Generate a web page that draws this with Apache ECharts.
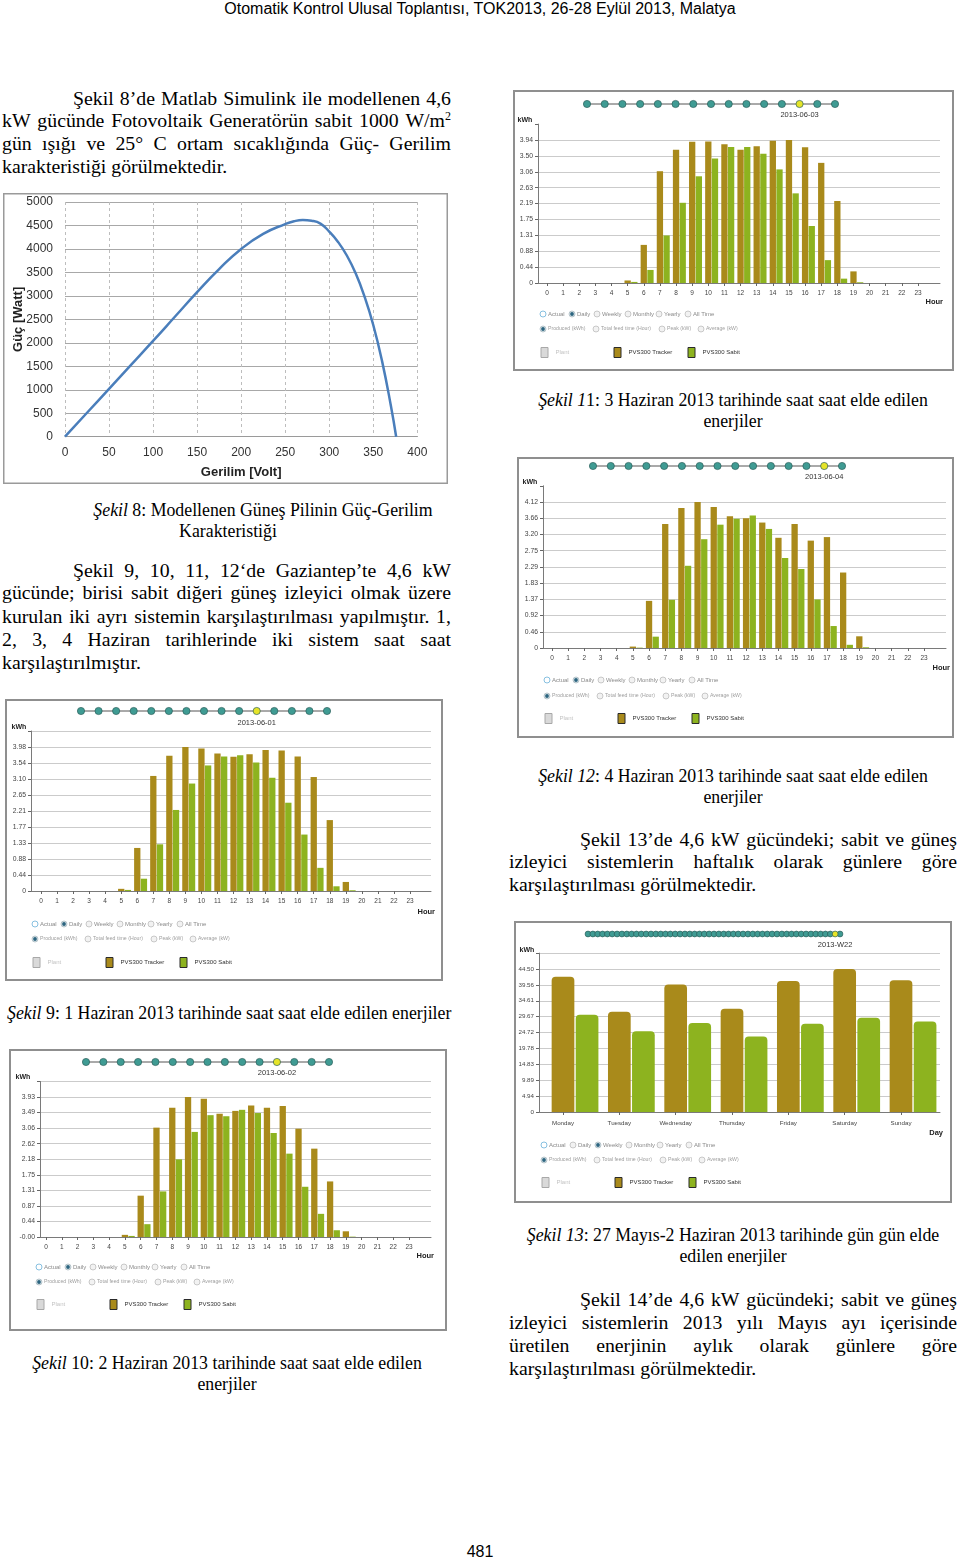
<!DOCTYPE html>
<html><head><meta charset="utf-8">
<script src="https://cdn.jsdelivr.net/npm/echarts/dist/echarts.min.js"></script>
<style>
body{margin:0;width:960px;height:1558px;position:relative;background:#fff;overflow:hidden;font-family:'Liberation Serif','Times New Roman',serif;color:#000}
.hd{position:absolute;left:0;top:0;width:960px;text-align:center;font-size:16px;line-height:18px;font-family:'Liberation Sans Narrow','Arial Narrow','Liberation Sans',sans-serif;white-space:nowrap}
.j{position:absolute;display:flex;justify-content:space-between;white-space:nowrap;font-size:19.8px;line-height:23px}
.l{position:absolute;white-space:nowrap;font-size:19.8px;line-height:23px}
.c{position:absolute;width:440px;text-align:center;white-space:nowrap;font-size:17.8px;line-height:21px}
.pg{position:absolute;left:430px;width:100px;top:1543px;text-align:center;font:16px 'Liberation Sans',Arial,sans-serif}
sup{font-size:12px;line-height:0;vertical-align:7px}
.ch{position:absolute;background:#fff}
</style></head><body>

<div class="hd">Otomatik Kontrol Ulusal Toplantısı, TOK2013, 26-28 Eylül 2013, Malatya</div>

<div class="j" style="left:73px;top:87px;width:378px">Şekil 8’de Matlab Simulink ile modellenen 4,6</div>
<div class="j" style="left:2px;top:109px;width:449px">kW gücünde Fotovoltaik Generatörün sabit 1000 W/m<sup>2</sup></div>
<div class="j" style="left:2px;top:132px;width:449px">gün ışığı ve 25° C ortam sıcaklığında Güç- Gerilim</div>
<div class="l" style="left:2px;top:155px">karakteristiği görülmektedir.</div>

<div class="c" style="left:43px;top:500px"><i>Şekil</i> 8: Modellenen Güneş Pilinin Güç-Gerilim</div>
<div class="c" style="left:8px;top:521px">Karakteristiği</div>

<div class="j" style="left:73px;top:559px;width:378px">Şekil 9, 10, 11, 12‘de Gaziantep’te 4,6 kW</div>
<div class="j" style="left:2px;top:581px;width:449px">gücünde; birisi sabit diğeri güneş izleyici olmak üzere</div>
<div class="j" style="left:2px;top:605px;width:449px">kurulan iki ayrı sistemin karşılaştırılması yapılmıştır. 1,</div>
<div class="j" style="left:2px;top:628px;width:449px">2, 3, 4 Haziran tarihlerinde iki sistem saat saat</div>
<div class="l" style="left:2px;top:651px">karşılaştırılmıştır.</div>

<div class="c" style="left:513px;top:390px"><i>Şekil 1</i>1: 3 Haziran 2013 tarihinde saat saat elde edilen</div>
<div class="c" style="left:513px;top:411px">enerjiler</div>

<div class="c" style="left:513px;top:766px"><i>Şekil 12</i>: 4 Haziran 2013 tarihinde saat saat elde edilen</div>
<div class="c" style="left:513px;top:787px">enerjiler</div>

<div class="j" style="left:580px;top:828px;width:377px">Şekil 13’de 4,6 kW gücündeki; sabit ve güneş</div>
<div class="j" style="left:509px;top:850px;width:448px">izleyici sistemlerin haftalık olarak günlere göre</div>
<div class="l" style="left:509px;top:873px">karşılaştırılması görülmektedir.</div>

<div class="c" style="left:7px;top:1003px"><i>Şekil</i> 9: 1 Haziran 2013 tarihinde saat saat elde edilen enerjiler</div>

<div class="c" style="left:513px;top:1225px"><i>Şekil 13</i>: 27 Mayıs-2 Haziran 2013 tarihinde gün gün elde</div>
<div class="c" style="left:513px;top:1246px">edilen enerjiler</div>

<div class="j" style="left:580px;top:1288px;width:377px">Şekil 14’de 4,6 kW gücündeki; sabit ve güneş</div>
<div class="j" style="left:509px;top:1311px;width:448px">izleyici sistemlerin 2013 yılı Mayıs ayı içerisinde</div>
<div class="j" style="left:509px;top:1334px;width:448px">üretilen enerjinin aylık olarak günlere göre</div>
<div class="l" style="left:509px;top:1357px">karşılaştırılması görülmektedir.</div>

<div class="c" style="left:7px;top:1353px"><i>Şekil</i> 10: 2 Haziran 2013 tarihinde saat saat elde edilen</div>
<div class="c" style="left:7px;top:1374px">enerjiler</div>

<div class="pg">481</div>

<div id="pv" class="ch" style="left:3px;top:193px;width:445px;height:291px"></div>
<div id="f11" class="ch" style="left:513px;top:90px;width:441px;height:281px"></div>
<div id="f12" class="ch" style="left:517px;top:457px;width:437px;height:281px"></div>
<div id="f9" class="ch" style="left:5px;top:699px;width:438px;height:282px"></div>
<div id="f13" class="ch" style="left:514px;top:921px;width:438px;height:282px"></div>
<div id="f10" class="ch" style="left:9px;top:1049px;width:438px;height:282px"></div>

<script>
// ---------- DATA ----------
const pvVoltage = [0, 25, 50, 75, 100, 125, 150, 175, 200, 225, 250, 260, 270, 280, 290, 300, 310, 320, 330, 340, 350, 360, 370, 376];
const pvPower   = [0, 510, 1020, 1530, 2040, 2560, 3080, 3570, 4000, 4320, 4530, 4590, 4615, 4600, 4540, 4370, 4150, 3860, 3480, 2990, 2380, 1610, 660, 0];

const hourLabels = ['0','1','2','3','4','5','6','7','8','9','10','11','12','13','14','15','16','17','18','19','20','21','22','23'];
const dayLabels = ['Monday','Tuesday','Wednesday','Thursday','Friday','Saturday','Sunday'];

// Şekil 9: 2013-06-01
const fig9Tracker = [0,0,0,0,0,0.06,1.19,3.18,3.74,3.98,3.94,3.80,3.71,3.78,3.90,3.88,3.72,3.15,1.96,0.25,0,0,0,0];
const fig9Sabit   = [0,0,0,0,0,0.03,0.34,1.29,2.24,2.97,3.47,3.72,3.75,3.55,3.13,2.44,1.56,0.64,0.13,0.02,0,0,0,0];
const fig9YTicks  = ['0','0.44','0.88','1.33','1.77','2.21','2.65','3.10','3.54','3.98'];

// Şekil 10: 2013-06-02
const fig10Tracker = [0,0,0,0,0,0.06,1.16,3.07,3.63,3.93,3.88,3.46,3.54,3.69,3.63,3.68,3.04,2.48,1.56,0.16,0,0,0,0];
const fig10Sabit   = [0,0,0,0,0,0.03,0.36,1.28,2.18,2.95,3.42,3.39,3.57,3.48,2.92,2.34,1.41,0.65,0.19,0.01,0,0,0,0];
const fig10YTicks  = ['-0.00','0.44','0.87','1.31','1.75','2.18','2.62','3.06','3.49','3.93'];

// Şekil 11: 2013-06-03
const fig11Tracker = [0,0,0,0,0,0.07,1.05,3.08,3.67,3.89,3.90,3.82,3.67,3.77,3.92,3.94,3.74,3.31,2.26,0.32,0,0,0,0];
const fig11Sabit   = [0,0,0,0,0,0.03,0.36,1.31,2.21,2.94,3.43,3.75,3.75,3.56,3.13,2.47,1.57,0.63,0.12,0.02,0,0,0,0];
const fig11YTicks  = ['0','0.44','0.88','1.31','1.75','2.19','2.63','3.06','3.50','3.94'];

// Şekil 12: 2013-06-04
const fig12Tracker = [0,0,0,0,0,0.04,1.33,3.50,3.95,4.12,3.98,3.72,3.66,3.54,3.11,3.50,3.03,3.13,2.13,0.33,0,0,0,0];
const fig12Sabit   = [0,0,0,0,0,0.01,0.32,1.36,2.32,3.07,3.48,3.65,3.74,3.36,2.54,2.23,1.37,0.62,0.09,0.02,0,0,0,0];
const fig12YTicks  = ['0','0.46','0.92','1.37','1.83','2.29','2.75','3.20','3.66','4.12'];

// Şekil 13: 2013-W22
const fig13Tracker = [42.1, 31.2, 39.7, 32.1, 40.8, 44.5, 41.0];
const fig13Sabit   = [30.3, 25.1, 27.7, 23.5, 27.5, 29.3, 28.2];
const fig13YTicks  = ['0','4.94','9.89','14.83','19.78','24.72','29.67','34.61','39.56','44.50'];

const radioRow1 = ['Actual','Daily','Weekly','Monthly','Yearly','All Time'];
const radioRow2 = ['Produced (kWh)','Total feed time (Hour)','Peak (kW)','Average (kW)'];

// ---------- TEXT JUSTIFY ----------
document.querySelectorAll('.j').forEach(d => {
  const words = d.innerHTML.trim().split(/\s+/);
  d.innerHTML = words.map(w => '<span>' + w + '</span>').join('');
});

const FONT = "'Liberation Sans', Arial, sans-serif";
const TRACKER = '#a98a1b', SABIT = '#8db31f';

// ---------- PV CURVE ----------
(function(){
  const ch = echarts.init(document.getElementById('pv'));
  const W = 445, H = 291;
  ch.setOption({
    animation:false,
    textStyle:{fontFamily:FONT},
    grid:{left:62, top:9, width:352.3, height:234.7, containLabel:false, outerBoundsMode:'none'},
    xAxis:{type:'value', min:0, max:400, interval:50,
      name:'Gerilim [Volt]', nameLocation:'middle', nameGap:29, nameMoveOverlap:false,
      nameTextStyle:{fontSize:13, fontWeight:'bold', color:'#222', fontFamily:FONT},
      axisLine:{lineStyle:{color:'#9a9a9a'}}, axisTick:{show:false},
      axisLabel:{fontSize:12, color:'#333', margin:10, formatter:v => String(v)},
      splitLine:{show:true, lineStyle:{color:'#bdbdbd', type:[3,3]}}},
    yAxis:{type:'value', min:0, max:5000, interval:500,
      name:'Güç [Watt]', nameLocation:'middle', nameGap:40, nameRotate:90, nameMoveOverlap:false,
      nameTextStyle:{fontSize:13, fontWeight:'bold', color:'#222', fontFamily:FONT},
      axisLine:{show:false}, axisTick:{show:false},
      axisLabel:{fontSize:12, color:'#333', margin:12, formatter:v => String(v)},
      splitLine:{show:true, lineStyle:{color:'#a8a8a8'}}},
    series:[{type:'line', data:pvVoltage.map((v,i)=>[v, pvPower[i]]), smooth:0.5,
      symbol:'none', lineStyle:{color:'#4a7ebb', width:2.5}}],
    graphic:[{type:'rect', silent:true, shape:{x:0.75,y:0.75,width:W-1.5,height:H-1.5}, style:{fill:'none', stroke:'#9a9a9a', lineWidth:1.5}}]
  });
})();

// ---------- BAR PANELS ----------
function buildPanel(id, W, H, d, g) {
  const ch = echarts.init(document.getElementById(id));
  const n = d.cats.length;
  const top = parseFloat(d.yTicks[d.yTicks.length-1]);
  const itv = top / 9;
  const ymax = itv * 10;
  const axisTop = g.zero - (g.zero - g.topGrid) * 10 / 9;
  const gh = g.zero - axisTop;
  const band = (g.lastLbl - g.firstLbl) / (n - 1);
  const bl = g.firstLbl - band / 2;
  const gapPct = 6;
  const shift = g.bw * (1 + gapPct/100) / 2;
  const yFmt = v => { const i = Math.round(v / itv); return (i >= 0 && i < d.yTicks.length) ? d.yTicks[i] : ''; };

  const gr = [];
  gr.push({type:'rect', silent:true, shape:{x:1,y:1,width:W-2,height:H-2}, style:{fill:'none', stroke:'#8f8f8f', lineWidth:2}});
  // timeline
  const tx = i => g.dX0 + i * (g.dX1 - g.dX0) / (g.nDots - 1);
  gr.push({type:'line', silent:true, shape:{x1:g.dX0,y1:g.tY,x2:g.dX1,y2:g.tY}, style:{stroke:'#555', lineWidth:1}});
  for (let i = 0; i < g.nDots; i++) {
    gr.push({type:'circle', silent:true, z:i===g.sel?10:5, shape:{cx:tx(i), cy:g.tY, r:g.dotR},
      style:{fill: i===g.sel ? '#e6e428' : '#3f9b93', stroke:'#2b5e5a', lineWidth:0.7}});
  }
  gr.push({type:'text', silent:true, x:tx(g.sel), y:g.dateY, style:{text:d.date, fontSize:7.5, fill:'#333', align:'center', verticalAlign:'middle', fontFamily:FONT}});
  gr.push({type:'text', silent:true, x:g.kwh[0], y:g.kwh[1], style:{text:'kWh', fontSize:7, fontWeight:'bold', fill:'#222', align:'center', verticalAlign:'middle', fontFamily:FONT}});
  gr.push({type:'text', silent:true, x:g.xname[0], y:g.xname[1], style:{text:d.xName, fontSize:7.5, fontWeight:'bold', fill:'#222', align:'right', verticalAlign:'middle', fontFamily:FONT}});
  // radio rows
  const r1x = [30,59,84,115,146,175], r2x = [30,83,149,188];
  const radio = (x, y, label, state, col, fs) => {
    if (state === 'sel') {
      gr.push({type:'circle', silent:true, shape:{cx:x,cy:y,r:3}, style:{fill:'#e2e8ea', stroke:'#9fb3bb', lineWidth:0.7}});
      gr.push({type:'circle', silent:true, shape:{cx:x,cy:y,r:1.9}, style:{fill:'#2c6580'}});
    } else if (state === 'blue') {
      gr.push({type:'circle', silent:true, shape:{cx:x,cy:y,r:3}, style:{fill:'#fff', stroke:'#79b9dc', lineWidth:0.9}});
    } else {
      gr.push({type:'circle', silent:true, shape:{cx:x,cy:y,r:3}, style:{fill:'#f2f2f2', stroke:'#b4b4b4', lineWidth:0.7}});
    }
    gr.push({type:'text', silent:true, x:x+5, y:y, style:{text:label, fontSize:fs, fill:col, align:'left', verticalAlign:'middle', fontFamily:FONT}});
  };
  radioRow1.forEach((t,i) => radio(r1x[i], g.r1, t, i===0 ? 'blue' : (t===d.period ? 'sel' : 'off'), '#8a8a8a', 6));
  radioRow2.forEach((t,i) => radio(r2x[i], g.r2, t, i===0 ? 'sel' : 'off', '#a0a0a0', 5.2));

  const legBase = {orient:'horizontal', padding:0, itemWidth:7, itemHeight:10, icon:'rect', selectedMode:false, top:g.leg-5,
    itemStyle:{borderColor:'#2a2a2a', borderWidth:1}};
  const legendTxt = c => ({fontSize:6, color:c, fontFamily:FONT, padding:[0,0,0,2.5]});
  const gb = {containLabel:false, outerBoundsMode:'none', top:axisTop, height:gh};

  ch.setOption({
    animation:false,
    textStyle:{fontFamily:FONT},
    grid:[
      Object.assign({left:g.yX, width:g.axisRight - g.yX}, gb),
      Object.assign({left:bl, width:band*n}, gb),
      Object.assign({left:bl + shift, width:band*n}, gb)
    ],
    xAxis:[
      {gridIndex:0, type:'value', min:0, max:1, axisLine:{show:true, lineStyle:{color:'#7a7a7a', width:1}}, axisTick:{show:false}, axisLabel:{show:false}, splitLine:{show:false}},
      {gridIndex:1, type:'category', data:d.cats, axisLine:{show:false},
        axisTick:{show:true, alignWithLabel:true, length:3, lineStyle:{color:'#666'}},
        axisLabel:{interval:0, fontSize:g.xFont, color:'#444', margin:g.xMargin}},
      {gridIndex:2, type:'category', data:d.cats, show:false}
    ],
    yAxis:[
      {gridIndex:0, type:'value', min:0, max:ymax, interval:itv,
        axisLine:{show:true, lineStyle:{color:'#7a7a7a', width:1}},
        axisTick:{show:true, length:3, lineStyle:{color:'#666'}},
        axisLabel:{fontSize:g.yFont, color:'#444', margin:5, formatter:yFmt},
        splitLine:{show:true, showMaxLine:false, lineStyle:{color:'#cbcbcb', width:1}}},
      {gridIndex:1, type:'value', min:0, max:ymax, show:false},
      {gridIndex:2, type:'value', min:0, max:ymax, show:false}
    ],
    legend:[
      Object.assign({}, legBase, {left:g.lx[0]-3.5, data:[{name:'Plant', itemStyle:{color:'#d9d9d9', borderColor:'#a8a8a8'}}], textStyle:legendTxt('#c4c4c4')}),
      Object.assign({}, legBase, {left:g.lx[1]-3.5, data:['PVS300 Tracker'], textStyle:legendTxt('#333')}),
      Object.assign({}, legBase, {left:g.lx[2]-3.5, data:['PVS300 Sabit'], textStyle:legendTxt('#333')})
    ],
    series:[
      {name:'PVS300 Tracker', type:'bar', xAxisIndex:2, yAxisIndex:2, data:d.tracker, barWidth:g.bw, barGap:gapPct+'%',
        itemStyle:{color:TRACKER, borderRadius:g.radius}},
      {name:'PVS300 Sabit', type:'bar', xAxisIndex:2, yAxisIndex:2, data:d.sabit, barWidth:g.bw, barGap:gapPct+'%',
        itemStyle:{color:SABIT, borderRadius:g.radius}},
      {name:'Plant', type:'bar', xAxisIndex:1, yAxisIndex:1, data:[], itemStyle:{color:'#d9d9d9'}}
    ],
    graphic:gr
  });
}

const dailyCommon = {bw:6.3, radius:0, dotR:3.6, nDots:15, xFont:6.5, yFont:6.8, xMargin:7, lx:[31,104,178]};

buildPanel('f9', 438, 282,
  {cats:hourLabels, tracker:fig9Tracker, sabit:fig9Sabit, yTicks:fig9YTicks, date:'2013-06-01', xName:'Hour', period:'Daily'},
  Object.assign({}, dailyCommon, {yX:26, topGrid:48, zero:192, firstLbl:36, lastLbl:405, axisRight:426,
    tY:12, dX0:76, dX1:322, sel:10, dateY:24, kwh:[14,28], xname:[430,213], r1:225, r2:240, leg:263}));

buildPanel('f10', 438, 282,
  {cats:hourLabels, tracker:fig10Tracker, sabit:fig10Sabit, yTicks:fig10YTicks, date:'2013-06-02', xName:'Hour', period:'Daily'},
  Object.assign({}, dailyCommon, {yX:31, topGrid:48, zero:188, firstLbl:37, lastLbl:400, axisRight:422,
    tY:13, dX0:77, dX1:320, sel:11, dateY:24, kwh:[14,28], xname:[425,207], r1:218, r2:233, leg:255}));

buildPanel('f11', 441, 281,
  {cats:hourLabels, tracker:fig11Tracker, sabit:fig11Sabit, yTicks:fig11YTicks, date:'2013-06-03', xName:'Hour', period:'Daily'},
  Object.assign({}, dailyCommon, {yX:25, topGrid:50, zero:193, firstLbl:34, lastLbl:405, axisRight:427,
    tY:14, dX0:74, dX1:322, sel:12, dateY:25, kwh:[12,30], xname:[430,212], r1:224, r2:239, leg:262}));

buildPanel('f12', 437, 281,
  {cats:hourLabels, tracker:fig12Tracker, sabit:fig12Sabit, yTicks:fig12YTicks, date:'2013-06-04', xName:'Hour', period:'Daily'},
  Object.assign({}, dailyCommon, {yX:26, topGrid:45, zero:191, firstLbl:35, lastLbl:407, axisRight:429,
    tY:9, dX0:76, dX1:325, sel:13, dateY:20, kwh:[13,25], xname:[433,211], r1:223, r2:239, leg:261}));

buildPanel('f13', 438, 282,
  {cats:dayLabels, tracker:fig13Tracker, sabit:fig13Sabit, yTicks:fig13YTicks, date:'2013-W22', xName:'Day', period:'Weekly'},
  {bw:22.7, radius:[4,4,0,0], dotR:2.9, nDots:53, xFont:6.2, yFont:6.2, xMargin:8, lx:[31,104,178],
    yX:25, topGrid:48, zero:191, firstLbl:49, lastLbl:387, axisRight:426,
    tY:13, dX0:74, dX1:326, sel:51, dateY:24, kwh:[13,29], xname:[429,212], r1:224, r2:239, leg:261});
</script>
</body></html>
